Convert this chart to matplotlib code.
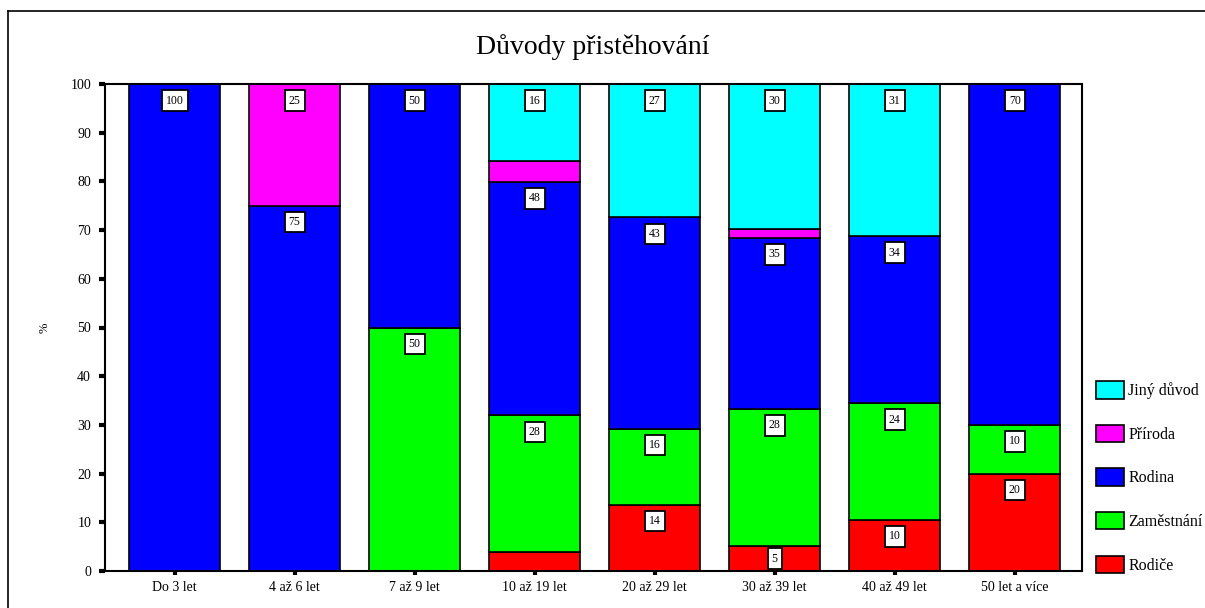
#!/usr/bin/env python3
"""Stacked 100% bars: Důvody přistěhování by length of residence."""

import numpy as np
import matplotlib
matplotlib.use("Agg")
import matplotlib.pyplot as plt
from matplotlib.lines import Line2D
from matplotlib.patches import Patch

categories = ["Do 3 let", "4 až 6 let", "7 až 9 let", "10 až 19 let",
              "20 až 29 let", "30 až 39 let", "40 až 49 let", "50 let a více"]

# percentages, bottom to top
rodice = [0, 0, 0, 3.8, 13.6, 5.1, 10.5, 20]
zamestnani = [0, 0, 50, 28.2, 15.6, 28.2, 24.0, 10]
rodina = [100, 75, 50, 47.9, 43.4, 35.1, 34.3, 70]
priroda = [0, 25, 0, 4.2, 0, 1.8, 0, 0]
jiny = [0, 0, 0, 15.9, 27.4, 29.8, 31.2, 0]

series = [
    ("Rodiče", rodice, "#ff0000"),
    ("Zaměstnání", zamestnani, "#00ff00"),
    ("Rodina", rodina, "#0000ff"),
    ("Příroda", priroda, "#ff00ff"),
    ("Jiný důvod", jiny, "#00ffff"),
]

plt.rcParams["font.family"] = ["Liberation Serif", "DejaVu Serif"]

fig = plt.figure(figsize=(12.05, 6.08), dpi=100)
ax = fig.add_axes([105 / 1205, 1 - 571 / 608, (1082 - 105) / 1205, (571 - 84) / 608])

x = np.arange(len(categories))
bottom = np.zeros(len(categories))
for name, vals, color in series:
    vals = np.array(vals, dtype=float)
    ax.bar(x, vals, bottom=bottom, width=0.76, color=color,
           edgecolor="black", linewidth=1.2, label=name)
    for xi, b, v in zip(x, bottom, vals):
        if v >= 5:
            ytxt = b + v - min(3.4, v / 2)
            ax.text(xi, ytxt, f"{v:.0f}", ha="center", va="center", fontsize=8.5,
                    bbox=dict(boxstyle="square,pad=0.35", fc="white", ec="black", lw=1.3))
    bottom += vals

ax.set_xlim(-0.58, 7.56)
ax.set_ylim(0, 100)
ax.set_yticks(np.arange(0, 101, 10))
ax.set_xticks(x)
ax.set_xticklabels(categories, fontsize=10)
ax.tick_params(axis="y", labelsize=10, length=4, width=3, direction="out", pad=6)
ax.tick_params(axis="x", length=3, width=3, direction="out", pad=4)
for s in ax.spines.values():
    s.set_linewidth(1.5)
ax.set_ylabel("%", fontsize=9, labelpad=14)

fig.text(593 / 1205, 1 - 47 / 608, "Důvody přistěhování", ha="center", va="center",
         fontsize=20)

# legend, top entry first
handles = [Patch(facecolor=c, edgecolor="black", linewidth=1.2) for _, _, c in series[::-1]]
labels = [n for n, _, _ in series[::-1]]
fig.legend(handles, labels, loc="lower left", bbox_to_anchor=(1090 / 1205, 1 - 580 / 608),
           frameon=False, fontsize=11.5, handlelength=1.7, handleheight=1.3,
           labelspacing=1.6, handletextpad=0.3, borderaxespad=0)

# outer frame (top and left edges)
fig.add_artist(Line2D([8 / 1205, 1], [1 - 11 / 608, 1 - 11 / 608], color="black", lw=1.2))
fig.add_artist(Line2D([8 / 1205, 8 / 1205], [0, 1 - 11 / 608], color="black", lw=1.2))

fig.savefig("out.png", dpi=100)
